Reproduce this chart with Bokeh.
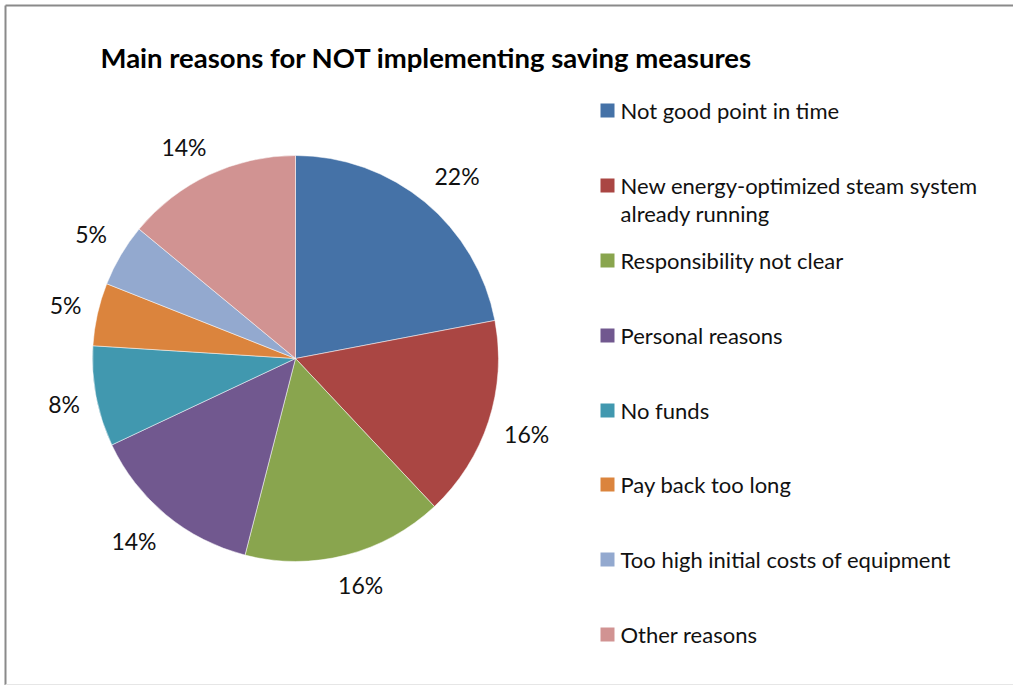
import numpy as np
from bokeh.plotting import figure
from bokeh.models import Range1d, ColumnDataSource
from bokeh.core.properties import value
from bokeh.embed import file_html
from bokeh.resources import INLINE

title = "Main reasons for NOT implementing saving measures"
categories = [
    "Not good point in time",
    "New energy-optimized steam system\nalready running",
    "Responsibility not clear",
    "Personal reasons",
    "No funds",
    "Pay back too long",
    "Too high initial costs of equipment",
    "Other reasons",
]
percent = [22, 16, 16, 14, 8, 5, 5, 14]
colors = ["#4572A7", "#AA4643", "#89A54E", "#71588F",
          "#4198AF", "#DB843D", "#93A9CF", "#D19392"]

W, H = 1013, 685
FONT = "Lato"


def Y(py):
    # convert a screen pixel row to a data y (y axis points up)
    return H - np.asarray(py, dtype=float)


p = figure(width=W, height=H, output_backend="svg", toolbar_location=None,
           x_range=Range1d(0, W), y_range=Range1d(0, H),
           min_border=0, min_border_left=0, min_border_right=0,
           min_border_top=0, min_border_bottom=0)
p.axis.visible = False
p.grid.visible = False
p.outline_line_color = None
p.background_fill_color = "white"
p.border_fill_color = "white"

# chart border (cropped)
p.segment(x0=[5, 5], y0=Y([5, 5]), x1=[5, W], y1=Y([H, 5]),
          line_color="#8a8a8a", line_width=2)
p.segment(x0=[5], y0=Y([684]), x1=[W], y1=Y([684]),
          line_color="#e6e6e6", line_width=1)

# pie: starts at 12 o'clock, goes clockwise
vals = np.array(percent, dtype=float)
frac = vals / vals.sum()
cum = np.concatenate([[0], np.cumsum(frac)])
start = np.pi / 2 - 2 * np.pi * cum[:-1]
end = np.pi / 2 - 2 * np.pi * cum[1:]
cx, cy, r = 295, float(Y(358)), 203
src = ColumnDataSource(dict(start=start, end=end, color=colors))
p.wedge(x=cx, y=cy, radius=r, start_angle="start", end_angle="end",
        direction="clock", fill_color="color", line_color="white",
        line_width=0.5, source=src)

# percentage labels placed just outside each slice
labels = [f"{int(v)}%" for v in percent]
mid = (start + end) / 2
dx, dy = np.cos(mid), np.sin(mid)
half_w = np.array([9.0 * len(s) for s in labels]) / 1.35
half_h = 11.0
pad = 222
lx = cx + pad * dx + half_w * np.clip(dx * 2, -1, 1)
ly = cy + pad * dy + half_h * np.clip(dy * 2, -1, 1)
p.text(x=lx, y=ly, text=labels, text_align="center", text_baseline="middle",
       text_font=value(FONT), text_font_size="23px", text_color="#111111")

# title
p.text(x=[100], y=Y([57]), text=[title], text_align="left", text_baseline="middle",
       text_font=value(FONT), text_font_size="27.5px", text_font_style="bold",
       text_color="black")

# legend
leg_y = np.array([110, 185, 260, 335, 410, 484, 559, 634], dtype=float)
p.rect(x=[607] * len(categories), y=Y(leg_y), width=14, height=14,
       fill_color=colors, line_color=None)
line_h = 28.0
tx, ty, tt = [], [], []
for cat, yy in zip(categories, leg_y):
    for i, line in enumerate(cat.split("\n")):
        tx.append(620)
        ty.append(yy + i * line_h)
        tt.append(line)
p.text(x=tx, y=Y(ty), text=tt, text_align="left", text_baseline="middle",
       text_font=value(FONT), text_font_size="22px", text_color="#111111")

open("out.html", "w").write(file_html(p, INLINE))
